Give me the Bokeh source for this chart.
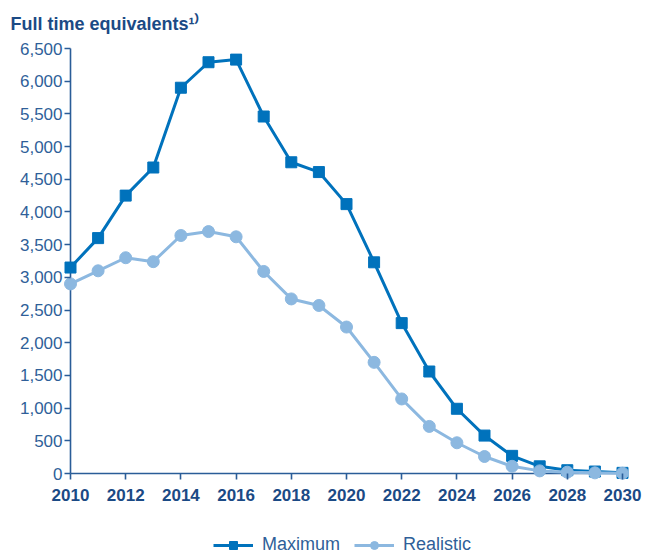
from bokeh.plotting import figure
from bokeh.models import (Range1d, FixedTicker, NumeralTickFormatter, Legend,
                          LegendItem)
from bokeh.embed import file_html
from bokeh.resources import INLINE

years = list(range(2010, 2031))
maximum = [3150, 3600, 4250, 4680, 5900, 6290, 6330, 5460, 4760, 4610, 4120,
           3230, 2300, 1560, 990, 580, 270, 110, 50, 30, 10]
realistic = [2900, 3100, 3300, 3240, 3640, 3700, 3620, 3090, 2670, 2570, 2240,
             1700, 1140, 720, 470, 260, 110, 40, 20, 10, 5]
x_ticks = list(range(2010, 2031, 2))
y_ticks = list(range(0, 6501, 500))

C_MAX = "#0072bc"
C_REAL = "#8cb8e0"
C_AXIS = "#2a5d98"
C_TEXT = "#1b4a85"
C_YLAB = "#2f5f99"
FONT = "Liberation Sans"

px_per_year = 27.6
px_per_unit = 425 / 6500.0
x_range = Range1d(years[0] - 70 / px_per_year, years[-1] + 35 / px_per_year)
y_range = Range1d(-83 / px_per_unit, y_ticks[-1] + 8 / px_per_unit)

p = figure(width=657, height=556, output_backend="svg", toolbar_location=None,
           x_range=x_range, y_range=y_range,
           min_border_left=0, min_border_right=0, min_border_top=40,
           min_border_bottom=0)
p.grid.visible = False
p.outline_line_color = None
p.background_fill_color = "white"

# axis lines through the data origin
p.segment(x0=[years[0]], y0=[0], x1=[years[0]], y1=[y_ticks[-1]],
          line_color=C_AXIS, line_width=1.6)
p.segment(x0=[years[0]], y0=[0], x1=[years[-1]], y1=[0],
          line_color=C_AXIS, line_width=1.6)

l1 = p.line(years, maximum, line_color=C_MAX, line_width=3)
s1 = p.scatter(years, maximum, marker="square", size=11, fill_color=C_MAX,
               line_color=C_MAX)
l2 = p.line(years, realistic, line_color=C_REAL, line_width=3)
s2 = p.scatter(years, realistic, marker="circle", size=12, fill_color=C_REAL,
               line_color=C_REAL)

for ax in (p.xaxis[0], p.yaxis[0]):
    ax.axis_line_color = None
    ax.major_tick_line_color = C_AXIS
    ax.major_tick_line_width = 1.6
    ax.major_tick_in = 0
    ax.major_tick_out = 6
    ax.minor_tick_line_color = None
    ax.major_label_text_font = FONT
    ax.major_label_text_font_size = "17px"

# x axis drawn at y = 0, ticks pointing down
p.xaxis.fixed_location = 0
p.xaxis.ticker = FixedTicker(ticks=x_ticks)
p.xaxis.major_label_text_font_style = "bold"
p.xaxis.major_label_text_color = C_TEXT
p.xaxis.major_label_standoff = 9

# y axis drawn at x = 2010, ticks pointing left
p.yaxis.fixed_location = years[0]
p.yaxis.ticker = FixedTicker(ticks=y_ticks)
p.yaxis.formatter = NumeralTickFormatter(format="0,0")
p.yaxis.major_label_text_color = C_YLAB
p.yaxis.major_label_standoff = 2

p.title.text = "Full time equivalents\u00b9\u207e"
p.title.text_font = FONT
p.title.text_font_style = "bold"
p.title.text_font_size = "18px"
p.title.text_color = C_TEXT
p.title.align = "left"
p.title.offset = 10
p.title.standoff = 13

legend = Legend(items=[LegendItem(label="Maximum", renderers=[l1, s1]),
                       LegendItem(label="Realistic", renderers=[l2, s2])],
                location=(213, 1), orientation="horizontal",
                glyph_width=40, glyph_height=20, label_height=20,
                label_standoff=9, spacing=14,
                padding=0, margin=0, border_line_color=None,
                background_fill_alpha=0,
                label_text_font=FONT, label_text_font_size="18px",
                label_text_color=C_YLAB)
p.add_layout(legend, "center")

open("out.html", "w").write(file_html(p, INLINE))
